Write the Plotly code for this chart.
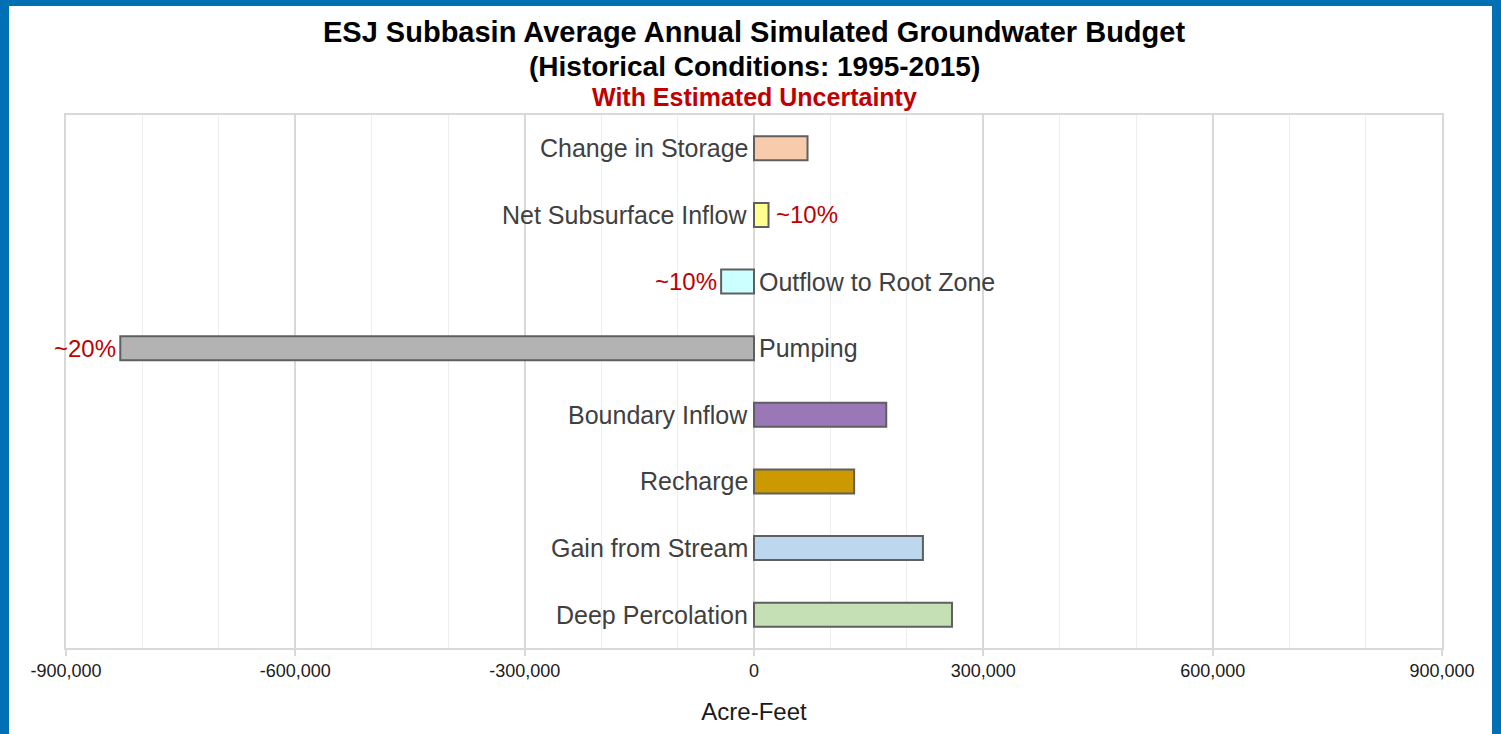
import plotly.graph_objects as go

categories = ["Change in Storage", "Net Subsurface Inflow", "Outflow to Root Zone", "Pumping",
              "Boundary Inflow", "Recharge", "Gain from Stream", "Deep Percolation"]
values = [70000, 19000, -43000, -829000, 173000, 131000, 221000, 259000]
colors = ["#F8CBAD", "#FFFF8F", "#CCFFFF", "#B3B3B3", "#9A78B8", "#CC9900", "#BDD7EE", "#C5E0B4"]
uncertainty = {"Net Subsurface Inflow": "~10%", "Outflow to Root Zone": "~10%", "Pumping": "~20%"}
tick_vals = [-900000, -600000, -300000, 0, 300000, 600000, 900000]
tick_labels = ["-900,000", "-600,000", "-300,000", "0", "300,000", "600,000", "900,000"]

FONT = "Liberation Sans, Arial, sans-serif"

L, R, T, B = 66, 59, 115, 86
W, H = 1501, 734
ph = H - T - B
pw = W - L - R


def px_x(p):
    return (p - L) / pw


def px_y(p):
    return 1 + (T - p) / ph


fig = go.Figure()
fig.add_trace(go.Bar(
    y=categories, x=values, orientation="h",
    marker=dict(color=colors, line=dict(color="#5f5f5f", width=2)),
    width=0.36, hoverinfo="x+y", showlegend=False,
))

annotations = []
for cat, val in zip(categories, values):
    annotations.append(dict(
        x=0, y=cat, xref="x", yref="y", text=cat, showarrow=False,
        xanchor="right" if val >= 0 else "left", xshift=-4 if val >= 0 else 3,
        font=dict(family=FONT, size=25, color="#404040"),
    ))
    if cat in uncertainty:
        annotations.append(dict(
            x=val, y=cat, xref="x", yref="y", text=uncertainty[cat], showarrow=False,
            xanchor="left" if val >= 0 else "right", xshift=5 if val >= 0 else -2,
            font=dict(family=FONT, size=24, color="#C00000"),
        ))

annotations += [
    dict(x=0.5, y=px_y(32), xref="paper", yref="paper", yanchor="middle", showarrow=False,
         text="<b>ESJ Subbasin Average Annual Simulated Groundwater Budget</b>",
         font=dict(family=FONT, size=29, color="#000000")),
    dict(x=0.5, y=px_y(66), xref="paper", yref="paper", yanchor="middle", showarrow=False,
         text="<b>(Historical Conditions: 1995-2015)</b>",
         font=dict(family=FONT, size=28, color="#000000")),
    dict(x=0.5, y=px_y(97), xref="paper", yref="paper", yanchor="middle", showarrow=False,
         text="<b>With Estimated Uncertainty</b>",
         font=dict(family=FONT, size=25, color="#C00000")),
]

blue = "#0070B4"
shapes = [
    dict(type="rect", xref="paper", yref="paper", x0=px_x(0), x1=px_x(9), y0=px_y(H), y1=px_y(0),
         fillcolor=blue, line=dict(width=0), layer="above"),
    dict(type="rect", xref="paper", yref="paper", x0=px_x(1492), x1=px_x(W), y0=px_y(H), y1=px_y(0),
         fillcolor=blue, line=dict(width=0), layer="above"),
    dict(type="rect", xref="paper", yref="paper", x0=px_x(0), x1=px_x(W), y0=px_y(6), y1=px_y(0),
         fillcolor=blue, line=dict(width=0), layer="above"),
]

fig.update_layout(
    width=W, height=H,
    margin=dict(l=L, r=R, t=T, b=B),
    paper_bgcolor="white", plot_bgcolor="white",
    annotations=annotations, shapes=shapes,
    xaxis=dict(
        range=[-900000, 900000], tickvals=tick_vals, ticktext=tick_labels,
        showgrid=True, gridcolor="#d9d9d9", gridwidth=1.5,
        minor=dict(dtick=100000, showgrid=True, gridcolor="#eeeeee", gridwidth=1),
        zeroline=False,
        showline=True, linecolor="#d9d9d9", linewidth=1.5, mirror=True,
        ticks="outside", ticklen=6, tickcolor="#d9d9d9", tickwidth=1.5,
        tickfont=dict(family=FONT, size=18, color="#1a1a1a"),
        title=dict(text="Acre-Feet", font=dict(family=FONT, size=24, color="#1a1a1a"), standoff=23),
        fixedrange=True,
    ),
    yaxis=dict(
        categoryorder="array", categoryarray=categories, autorange="reversed",
        showticklabels=False, showgrid=False, zeroline=False,
        showline=True, linecolor="#d9d9d9", linewidth=1.5, mirror=True, ticks="",
        fixedrange=True,
    ),
)

fig.write_html("out.html", config={"displayModeBar": False},
               post_script="document.body.style.margin='0';document.body.style.overflow='hidden';")
